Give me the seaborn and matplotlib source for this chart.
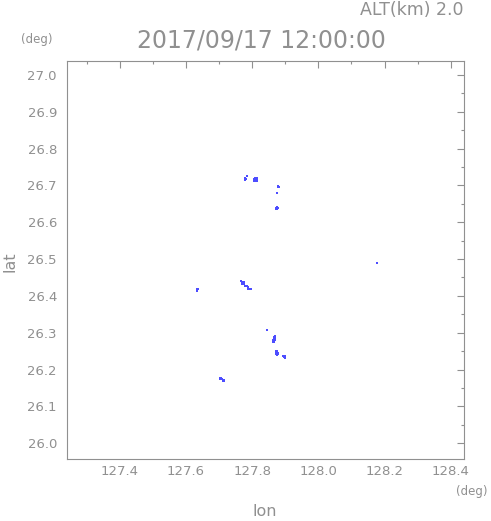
import matplotlib
matplotlib.use('Agg')
import matplotlib.pyplot as plt
from matplotlib.ticker import MultipleLocator
import seaborn as sns
import pandas as pd

# Константы
TITLE = '2017/09/17 12:00:00'
ALT_TEXT = 'ALT(km) 2.0'
LON_RANGE = (127.24, 128.44)
LAT_RANGE = (25.957, 27.038)
LON_TICKS = [127.4, 127.6, 127.8, 128.0, 128.2, 128.4]
LAT_TICKS = [26.0, 26.1, 26.2, 26.3, 26.4, 26.5, 26.6, 26.7, 26.8, 26.9, 27.0]

# echo grid cells (lon, lat)
echo_lon = [
    127.784,
    127.778, 127.778, 127.778, 127.781,
    127.809, 127.812, 127.815,
    127.806, 127.809, 127.812, 127.815,
    127.806, 127.809, 127.812, 127.815,
    127.806, 127.809, 127.812, 127.815,
    127.878, 127.878, 127.881,
    127.875,
    127.872, 127.875, 127.875, 127.878, 127.875, 127.872,
    127.766,
    127.769, 127.772, 127.775, 127.769, 127.772, 127.775, 127.769, 127.772, 127.775,
    127.778, 127.781, 127.781, 127.784, 127.788, 127.788, 127.791, 127.794, 127.797, 127.788,
    127.633, 127.636, 127.633, 127.633,
    127.845,
    127.869, 127.866, 127.869, 127.866, 127.869, 127.863, 127.866, 127.869,
    127.863, 127.866, 127.863, 127.866,
    127.872, 127.875, 127.872, 127.875, 127.878, 127.872, 127.875, 127.878, 127.875,
    127.894, 127.897, 127.900, 127.897, 127.900, 127.900, 127.900,
    127.703, 127.706, 127.703, 127.706, 127.709, 127.712, 127.715, 127.712, 127.715,
    128.176,
]
echo_lat = [
    26.726,
    26.720, 26.717, 26.715, 26.717,
    26.720, 26.720, 26.720,
    26.717, 26.717, 26.717, 26.717,
    26.715, 26.715, 26.715, 26.715,
    26.712, 26.712, 26.712, 26.712,
    26.698, 26.696, 26.696,
    26.679,
    26.638, 26.641, 26.638, 26.638, 26.636, 26.636,
    26.440,
    26.437, 26.437, 26.437, 26.434, 26.434, 26.434, 26.431, 26.431, 26.431,
    26.428, 26.428, 26.426, 26.426, 26.423, 26.420, 26.420, 26.418, 26.418, 26.418,
    26.418, 26.418, 26.415, 26.412,
    26.306,
    26.290, 26.287, 26.287, 26.284, 26.284, 26.281, 26.281, 26.281,
    26.279, 26.279, 26.276, 26.276,
    26.249, 26.249, 26.246, 26.246, 26.246, 26.243, 26.243, 26.243, 26.240,
    26.238, 26.238, 26.238, 26.235, 26.235, 26.232, 26.230,
    26.178, 26.178, 26.175, 26.175, 26.175, 26.172, 26.172, 26.170, 26.170,
    26.489,
]

GRAY = '#909090'
BLUE = '#4d4dff'


def main():
    sns.set_style('white')
    plt.rcParams['font.family'] = ['DejaVu Sans']

    df = pd.DataFrame({'lon': echo_lon, 'lat': echo_lat})

    fig = plt.figure(figsize=(4.91, 5.21), dpi=100)
    ax = fig.add_axes([0.1358, 0.119, 0.8092, 0.764])

    sns.scatterplot(data=df, x='lon', y='lat', marker='s', s=1.1,
                    color=BLUE, linewidth=0, ax=ax, legend=False)

    ax.set_xlim(*LON_RANGE)
    ax.set_ylim(*LAT_RANGE)
    ax.set_xticks(LON_TICKS)
    ax.set_yticks(LAT_TICKS)
    ax.set_xticklabels([f'{v:.1f}' for v in LON_TICKS])
    ax.set_yticklabels([f'{v:.1f}' for v in LAT_TICKS])
    ax.xaxis.set_minor_locator(MultipleLocator(0.1))
    ax.yaxis.set_minor_locator(MultipleLocator(0.05))

    ax.tick_params(which='both', direction='in', top=True, right=True,
                   color=GRAY, labelcolor=GRAY, labelsize=9.5)
    ax.tick_params(which='major', length=5, width=0.8)
    ax.tick_params(which='minor', length=2.5, width=0.8)
    ax.tick_params(axis='x', pad=4)
    ax.tick_params(axis='y', pad=7)
    for sp in ax.spines.values():
        sp.set_color(GRAY)
        sp.set_linewidth(0.8)

    ax.set_xlabel('')
    ax.set_ylabel('')
    fig.text(265 / 491, 1 - 512 / 521, 'lon', ha='center', va='center',
             fontsize=11.5, color=GRAY)
    fig.text(10 / 491, 1 - 262 / 521, 'lat', ha='center', va='center',
             rotation=90, fontsize=11.5, color=GRAY)
    fig.text(37 / 491, 1 - 40 / 521, '(deg)', ha='center', va='center',
             fontsize=8.5, color=GRAY)
    fig.text(472 / 491, 1 - 492 / 521, '(deg)', ha='center', va='center',
             fontsize=8.5, color=GRAY)
    fig.text(261 / 491, 1 - 40 / 521, TITLE, ha='center', va='center',
             fontsize=17, color=GRAY)
    fig.text(463 / 491, 1 - 10 / 521, ALT_TEXT, ha='right', va='center',
             fontsize=12.5, color=GRAY)

    fig.savefig('out.png', dpi=100, facecolor='white')


if __name__ == '__main__':
    main()
